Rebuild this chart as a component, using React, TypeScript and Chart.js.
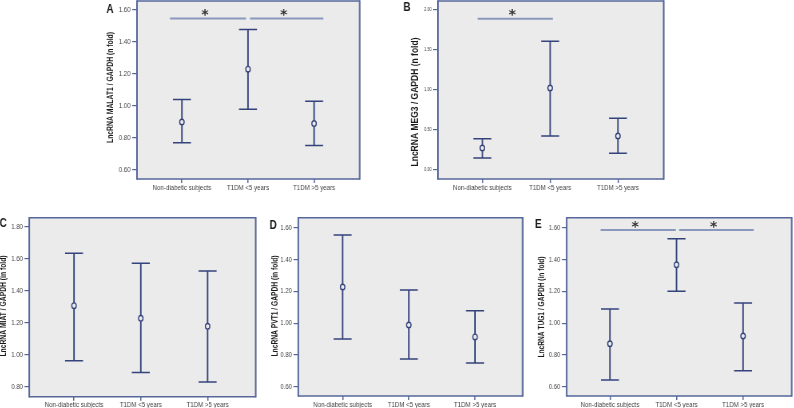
import React, { useEffect, useRef } from "react";
import { Chart, registerables } from "chart.js";
Chart.register(...registerables);

// ---------- data ----------
const categories = ["Non-diabetic subjects", "T1DM <5 years", "T1DM >5 years"];

const malat1Mean = [0.9, 1.23, 0.89];
const malat1Upper = [1.04, 1.478, 1.03];
const malat1Lower = [0.77, 0.98, 0.754];
const malat1Ticks = [0.6, 0.8, 1.0, 1.2, 1.4, 1.6];
const malat1Sig = [[-0.18, 0.97], [1.03, 2.14]];
const malat1SigY = 1.546;

const meg3Mean = [0.275, 1.025, 0.425];
const meg3Upper = [0.39, 1.61, 0.646];
const meg3Lower = [0.15, 0.425, 0.21];
const meg3Ticks = [0, 0.5, 1.0, 1.5, 2.0];
const meg3Sig = [[-0.07, 1.04]];
const meg3SigY = 1.89;

const miatMean = [1.306, 1.227, 1.177];
const miatUpper = [1.634, 1.571, 1.523];
const miatLower = [0.962, 0.888, 0.829];
const miatTicks = [0.8, 1.0, 1.2, 1.4, 1.6, 1.8];

const pvt1Mean = [1.227, 0.988, 0.913];
const pvt1Upper = [1.554, 1.208, 1.078];
const pvt1Lower = [0.9, 0.774, 0.749];
const pvt1Ticks = [0.6, 0.8, 1.0, 1.2, 1.4, 1.6];

const tug1Mean = [0.87, 1.367, 0.919];
const tug1Upper = [1.089, 1.531, 1.126];
const tug1Lower = [0.642, 1.2, 0.7];
const tug1Ticks = [0.6, 0.8, 1.0, 1.2, 1.4, 1.6];
const tug1Sig = [[-0.14, 0.99], [1.04, 2.16]];
const tug1SigY = 1.585;

// ---------- style ----------
const FONT = "'Liberation Sans', Arial, sans-serif";
const BG = "#ebebeb";
const BORDER = "#56679b";
const WHISKER = "#34437c";
const SIG = "#8a98bd";
const TEXT = "#1a1a1a";
const TICKTXT = "#444";
const SX = 0.8; // horizontal condensing of the canvas (narrow typeface look)

type Panel = {
  letter: string;
  title: string;
  mean: number[];
  upper: number[];
  lower: number[];
  ticks: number[];
  sig: number[][];
  sigY: number;
  box: { L: number; T: number; R: number; B: number };
  yMin: number;
  yMax: number;
  xMin: number;
  xMax: number;
  titleX: number;
  titleY: number;
  titleSize: number;
  titleLen: number;
  letterX: number;
  letterY: number;
  tickSize: number;
};

const panels: Panel[] = [
  {
    letter: "A", title: "LncRNA MALAT1 / GAPDH (n fold)",
    mean: malat1Mean, upper: malat1Upper, lower: malat1Lower, ticks: malat1Ticks,
    sig: malat1Sig, sigY: malat1SigY,
    box: { L: 137, T: 1, R: 361, B: 179 },
    yMin: 0.544, yMax: 1.656, xMin: -0.68, xMax: 2.69,
    titleX: 110.5, titleY: 87.5, titleSize: 9.4, titleLen: 111, letterX: 110, letterY: 9.5, tickSize: 7.6,
  },
  {
    letter: "B", title: "LncRNA MEG3 / GAPDH (n fold)",
    mean: meg3Mean, upper: meg3Upper, lower: meg3Lower, ticks: meg3Ticks,
    sig: meg3Sig, sigY: meg3SigY,
    box: { L: 438, T: 1, R: 665, B: 179 },
    yMin: -0.1125, yMax: 2.1125, xMin: -0.655, xMax: 2.675,
    titleX: 415, titleY: 102, titleSize: 10.4, titleLen: 129, letterX: 407, letterY: 7.5, tickSize: 4.8,
  },
  {
    letter: "C", title: "LncRNA MIAT / GAPDH (in fold)",
    mean: miatMean, upper: miatUpper, lower: miatLower, ticks: miatTicks,
    sig: [], sigY: 0,
    box: { L: 29.3, T: 217.7, R: 256.7, B: 396.7 },
    yMin: 0.7375, yMax: 1.856, xMin: -0.67, xMax: 2.72,
    titleX: 3.5, titleY: 306, titleSize: 9.4, titleLen: 101, letterX: 3.3, letterY: 224, tickSize: 7.4,
  },
  {
    letter: "D", title: "LncRNA PVT1 / GAPDH (in fold)",
    mean: pvt1Mean, upper: pvt1Upper, lower: pvt1Lower, ticks: pvt1Ticks,
    sig: [], sigY: 0,
    box: { L: 298.3, T: 217.7, R: 524, B: 396 },
    yMin: 0.5415, yMax: 1.663, xMin: -0.67, xMax: 2.72,
    titleX: 275, titleY: 306, titleSize: 9.4, titleLen: 101, letterX: 273.3, letterY: 226, tickSize: 7.4,
  },
  {
    letter: "E", title: "LncRNA TUG1 / GAPDH (in fold)",
    mean: tug1Mean, upper: tug1Upper, lower: tug1Lower, ticks: tug1Ticks,
    sig: tug1Sig, sigY: tug1SigY,
    box: { L: 566.7, T: 217.7, R: 793, B: 396 },
    yMin: 0.5415, yMax: 1.663, xMin: -0.65, xMax: 2.73,
    titleX: 541.5, titleY: 307, titleSize: 9.4, titleLen: 101, letterX: 538.3, letterY: 225, tickSize: 7.4,
  },
];

function PanelChart({ p }: { p: Panel }) {
  const ref = useRef<HTMLCanvasElement>(null);
  const cl = Math.floor(Math.min(p.titleX, p.letterX) - 9);
  const ct = Math.floor(p.box.T - 12);
  const cr = Math.ceil(p.box.R + 3);
  const cb = Math.ceil(p.box.B + 20);
  const w = cr - cl;
  const h = cb - ct;
  const wInt = Math.round(w / SX);
  const ix = (px: number) => (px - cl) / SX; // page x -> internal canvas x

  useEffect(() => {
    const canvas = ref.current!;
    const deco = {
      id: "deco" + p.letter,
      beforeDraw(chart: any) {
        const { ctx, chartArea: a } = chart;
        ctx.save();
        ctx.fillStyle = BG;
        ctx.fillRect(a.left, a.top, a.right - a.left, a.bottom - a.top);
        ctx.restore();
      },
      beforeDatasetsDraw(chart: any) {
        const { ctx, scales } = chart;
        const xs = scales.x, ys = scales.y;
        const cap = 9 / SX;
        ctx.save();
        ctx.strokeStyle = WHISKER;
        p.mean.forEach((_, i) => {
          const x = xs.getPixelForValue(i);
          const yu = ys.getPixelForValue(p.upper[i]);
          const yl = ys.getPixelForValue(p.lower[i]);
          ctx.lineWidth = 1.5 / SX;
          ctx.beginPath();
          ctx.moveTo(x, yu); ctx.lineTo(x, yl);
          ctx.stroke();
          ctx.lineWidth = 1.5;
          ctx.beginPath();
          ctx.moveTo(x - cap, yu); ctx.lineTo(x + cap, yu);
          ctx.moveTo(x - cap, yl); ctx.lineTo(x + cap, yl);
          ctx.stroke();
        });
        ctx.restore();
      },
      afterDraw(chart: any) {
        const { ctx, chartArea: a, scales } = chart;
        const xs = scales.x, ys = scales.y;
        ctx.save();
        ctx.strokeStyle = BORDER;
        ctx.lineWidth = 1.6;
        ctx.beginPath();
        ctx.moveTo(a.left, a.top); ctx.lineTo(a.right, a.top);
        ctx.moveTo(a.left, a.bottom); ctx.lineTo(a.right, a.bottom);
        ctx.stroke();
        ctx.lineWidth = 1.6 / SX;
        ctx.beginPath();
        ctx.moveTo(a.left, a.top - 0.8); ctx.lineTo(a.left, a.bottom + 0.8);
        ctx.moveTo(a.right, a.top - 0.8); ctx.lineTo(a.right, a.bottom + 0.8);
        ctx.stroke();
        // significance bars
        p.sig.forEach(([f, t]) => {
          const y = ys.getPixelForValue(p.sigY);
          const x1 = xs.getPixelForValue(f), x2 = xs.getPixelForValue(t);
          ctx.strokeStyle = SIG;
          ctx.lineWidth = 2;
          ctx.beginPath(); ctx.moveTo(x1, y); ctx.lineTo(x2, y); ctx.stroke();
          ctx.save();
          ctx.translate((x1 + x2) / 2 - 3 / SX, y - 5);
          ctx.scale(1 / SX, 1);
          ctx.fillStyle = "#333";
          ctx.font = `bold 14px 'DejaVu Sans', sans-serif`;
          ctx.textAlign = "center";
          ctx.textBaseline = "middle";
          ctx.fillText("*", 0, 2);
          ctx.restore();
        });
        // axis title (drawn in page units)
        ctx.fillStyle = TEXT;
        ctx.save();
        ctx.translate(ix(p.titleX), p.titleY - ct);
        ctx.scale(1 / SX, 1);
        ctx.rotate(-Math.PI / 2);
        ctx.font = `bold ${p.titleSize}px ${FONT}`;
        const m = ctx.measureText(p.title).width;
        ctx.scale(p.titleLen / m, 1);
        ctx.textAlign = "center";
        ctx.textBaseline = "middle";
        ctx.fillText(p.title, 0, 0);
        ctx.restore();
        // panel letter
        ctx.font = `bold 12.5px ${FONT}`;
        ctx.textAlign = "center";
        ctx.textBaseline = "middle";
        ctx.fillText(p.letter, ix(p.letterX), p.letterY - ct);
        ctx.restore();
      },
    };

    const chart = new Chart(canvas, {
      type: "scatter",
      data: {
        datasets: [
          {
            data: p.mean.map((m, i) => ({ x: i, y: m })),
            pointRadius: 2.8,
            pointBorderWidth: 1.4,
            pointBorderColor: WHISKER,
            pointBackgroundColor: BG,
            showLine: false,
          },
        ],
      },
      options: {
        responsive: false,
        animation: false,
        devicePixelRatio: 1,
        layout: {
          padding: { top: p.box.T - ct, right: (cr - p.box.R) / SX, left: 0, bottom: 0 },
        },
        plugins: { legend: { display: false }, tooltip: { enabled: false } },
        scales: {
          x: {
            type: "linear",
            bounds: "data",
            min: p.xMin,
            max: p.xMax,
            afterBuildTicks: (s: any) => {
              s.ticks = categories.map((_, i) => ({ value: i }));
            },
            afterFit: (s: any) => {
              s.height = cb - p.box.B;
            },
            ticks: {
              autoSkip: false,
              maxRotation: 0,
              minRotation: 0,
              padding: 0,
              color: TICKTXT,
              font: { family: FONT, size: 7.7 },
              callback: (v: any) => categories[Math.round(Number(v))] ?? "",
            },
            grid: { drawOnChartArea: false, drawTicks: true, tickLength: 4, color: BORDER, lineWidth: 1.5 },
            border: { display: false },
          },
          y: {
            type: "linear",
            bounds: "data",
            min: p.yMin,
            max: p.yMax,
            afterBuildTicks: (s: any) => {
              s.ticks = p.ticks.map((v) => ({ value: v }));
            },
            afterFit: (s: any) => {
              s.width = ix(p.box.L);
            },
            ticks: {
              padding: 2,
              color: TICKTXT,
              font: { family: FONT, size: p.tickSize },
              callback: (v: any) => Number(v).toFixed(2),
            },
            grid: { drawOnChartArea: false, drawTicks: true, tickLength: 6, color: BORDER, lineWidth: 1.2 },
            border: { display: false },
          },
        },
      } as any,
      plugins: [deco],
    });
    return () => chart.destroy();
  }, []);

  return (
    <canvas
      ref={ref}
      width={wInt}
      height={h}
      style={{ position: "absolute", left: cl, top: ct, width: w, height: h }}
    />
  );
}

export default function App() {
  return (
    <div
      style={{
        position: "absolute",
        left: 0,
        top: 0,
        width: 794,
        height: 408,
        overflow: "hidden",
        background: "#fff",
      }}
    >
      {panels.map((p) => (
        <PanelChart key={p.letter} p={p} />
      ))}
    </div>
  );
}
